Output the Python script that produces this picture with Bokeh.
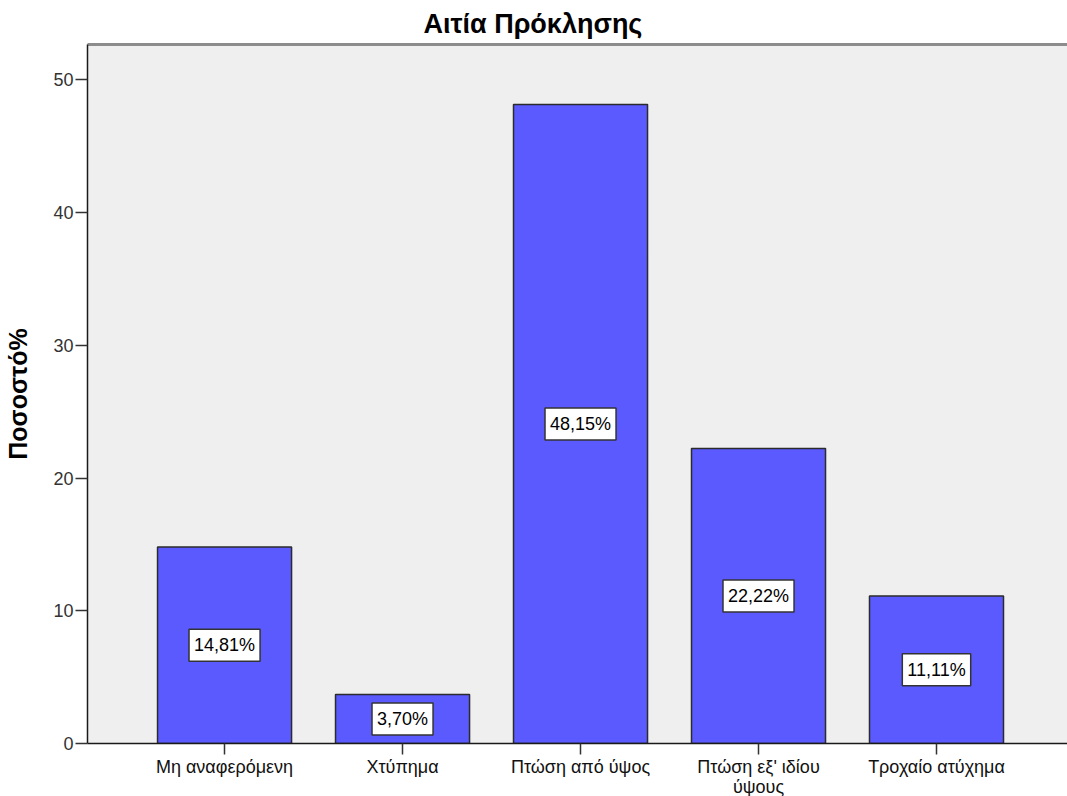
from bokeh.plotting import figure
from bokeh.models import (Range1d, FixedTicker, LinearAxis, Label, Title,
                          ColumnDataSource)
from bokeh.embed import file_html
from bokeh.resources import INLINE

# Cause of injury (percent of cases)
categories = ["Μη αναφερόμενη", "Χτύπημα", "Πτώση από ύψος",
              "Πτώση εξ' ιδίου\nύψους", "Τροχαίο ατύχημα"]
percent = [14.81, 3.70, 48.15, 22.22, 11.11]
y_ticks = [0, 10, 20, 30, 40, 50]

FONT = "Liberation Sans"

xpos = list(range(len(categories)))
src = ColumnDataSource(dict(x=xpos, top=percent))

p = figure(frame_width=980, frame_height=699,
           min_border_left=87, min_border_right=0,
           min_border_top=44, min_border_bottom=0,
           x_range=Range1d(-0.77, 4.736), y_range=Range1d(0, 52.67),
           output_backend="svg", toolbar_location=None,
           background_fill_color="#efefef", border_fill_color="white",
           outline_line_color=None)
p.grid.visible = False

p.vbar(x="x", top="top", bottom=0, width=0.753, source=src,
       fill_color="#5a5aff", line_color="#2b2b2b", line_width=1.5)

# value boxes in the middle of each bar
for xi, v in zip(xpos, percent):
    txt = f"{v:.2f}".replace(".", ",") + "%"
    p.add_layout(Label(x=xi, y=v / 2, text=txt, text_align="center",
                       text_baseline="middle", text_font=FONT,
                       text_font_size="18px", text_color="black",
                       background_fill_color="white",
                       border_line_color="#333333", border_line_width=1.5,
                       padding=(5, 6)))

# y axis
ya = p.yaxis[0]
ya.ticker = FixedTicker(ticks=y_ticks)
ya.axis_label = "Ποσοστό%"
ya.axis_label_text_font = FONT
ya.axis_label_text_font_style = "bold"
ya.axis_label_text_font_size = "25px"
ya.axis_label_text_color = "black"
ya.axis_label_standoff = 18
ya.major_label_text_font = FONT
ya.major_label_text_font_size = "18px"
ya.major_label_text_color = "#333333"
ya.major_label_standoff = 2
ya.major_tick_out = 12
ya.major_tick_in = 0
ya.major_tick_line_color = "#333333"
ya.major_tick_line_width = 1.5
ya.minor_tick_line_color = None
ya.axis_line_color = "#1a1a1a"
ya.axis_line_width = 1.5

# x axis
xa = p.xaxis[0]
xa.ticker = FixedTicker(ticks=xpos)
xa.major_label_overrides = {i: c for i, c in zip(xpos, categories)}
xa.major_label_text_font = FONT
xa.major_label_text_font_size = "18px"
xa.major_label_text_line_height = 1.0
xa.major_label_text_color = "#111111"
xa.major_label_standoff = 2
xa.major_tick_out = 11
xa.major_tick_in = 0
xa.major_tick_line_color = "#333333"
xa.major_tick_line_width = 1.5
xa.minor_tick_line_color = None
xa.axis_line_color = "#1a1a1a"
xa.axis_line_width = 1.5

# grey frame line along the top
top_axis = LinearAxis(ticker=FixedTicker(ticks=[]),
                      axis_line_color="#8c8c8c", axis_line_width=3,
                      major_tick_line_color=None, minor_tick_line_color=None,
                      major_label_text_font_size="0px")
p.add_layout(top_axis, "above")

p.add_layout(Title(text="Αιτία Πρόκλησης", align="left", offset=336,
                   text_font=FONT, text_font_style="bold",
                   text_font_size="27px", text_color="black", standoff=12),
             "above")

open("out.html", "w").write(file_html(p, INLINE))
